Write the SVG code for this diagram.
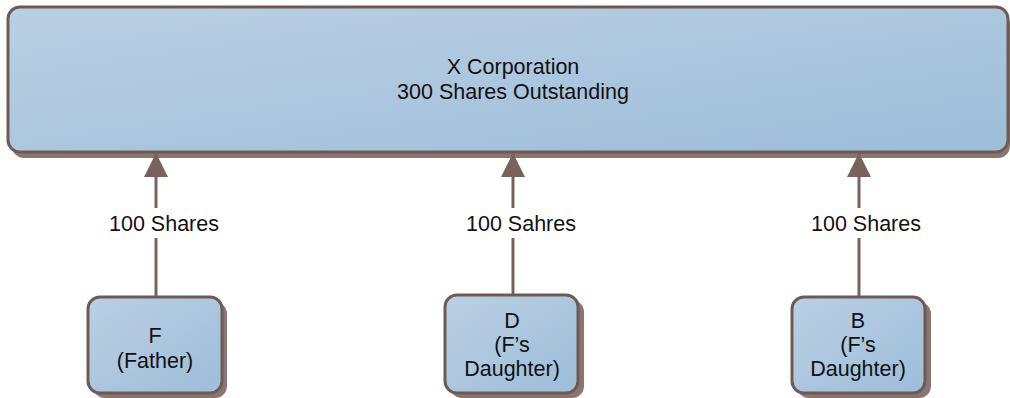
<svg xmlns="http://www.w3.org/2000/svg" width="1010" height="398" viewBox="0 0 1010 398">
<defs>
<linearGradient id="fill" x1="0" y1="0" x2="1" y2="1">
<stop offset="0" stop-color="#bad0e4"/>
<stop offset="1" stop-color="#9dbdd9"/>
</linearGradient>
<marker id="arr" markerWidth="24" markerHeight="24" viewBox="0 0 24 24" refX="24" refY="12" orient="auto" markerUnits="userSpaceOnUse">
<path d="M0,0 L24,12 L0,24 Z" fill="#7a625a"/>
</marker>
<style>
.box{fill:url(#fill);stroke:#6e5a52;stroke-width:3}
.sh{fill:#8a766e}
.t{font-family:"Liberation Sans",Arial,sans-serif;font-size:21.5px;fill:#111;text-anchor:middle}
.c{stroke:#7a625a;stroke-width:3;fill:none}
.lb{fill:#fff}
</style>
</defs>
<g id="corp">
<rect class="sh" x="12" y="12" width="998" height="146" rx="12"/>
<rect class="box" x="8" y="7" width="1000" height="145" rx="12"/>
<text class="t" x="513" y="74">X Corporation</text>
<text class="t" x="513" y="99">300 Shares Outstanding</text>
</g>
<g id="connectors">
<line class="c" x1="156" y1="297" x2="156" y2="153" marker-end="url(#arr)"/>
<line class="c" x1="513" y1="295" x2="513" y2="153" marker-end="url(#arr)"/>
<line class="c" x1="859" y1="297" x2="859" y2="153" marker-end="url(#arr)"/>
<rect class="lb" x="104" y="208" width="120" height="30"/>
<rect class="lb" x="461" y="208" width="120" height="30"/>
<rect class="lb" x="806" y="208" width="120" height="30"/>
<text class="t" x="164" y="231">100 Shares</text>
<text class="t" x="521" y="231">100 Sahres</text>
<text class="t" x="866" y="231">100 Shares</text>
</g>
<g id="F">
<rect class="sh" x="93" y="302" width="134" height="96" rx="12"/>
<rect class="box" x="88" y="297" width="134" height="96" rx="12"/>
<text class="t" x="155" y="343">F</text>
<text class="t" x="155" y="368">(Father)</text>
</g>
<g id="D">
<rect class="sh" x="450" y="300" width="134" height="98" rx="12"/>
<rect class="box" x="445" y="295" width="133" height="98" rx="12"/>
<text class="t" x="512" y="328">D</text>
<text class="t" x="512" y="352">(F’s</text>
<text class="t" x="512" y="376">Daughter)</text>
</g>
<g id="B">
<rect class="sh" x="797" y="302" width="134" height="96" rx="12"/>
<rect class="box" x="792" y="297" width="133" height="96" rx="12"/>
<text class="t" x="858" y="328">B</text>
<text class="t" x="858" y="352">(F’s</text>
<text class="t" x="858" y="376">Daughter)</text>
</g>
</svg>
